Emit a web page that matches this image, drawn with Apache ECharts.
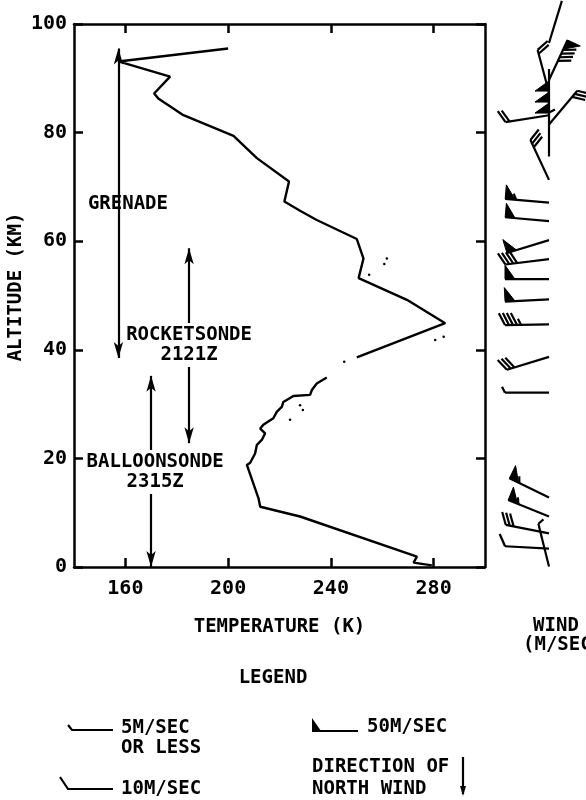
<!DOCTYPE html>
<html>
<head>
<meta charset="utf-8">
<script src="https://cdn.jsdelivr.net/npm/echarts@6/dist/echarts.min.js"></script>
<style>
html, body { margin: 0; padding: 0; background: #fff; }
#chart { width: 586px; height: 800px; }
</style>
</head>
<body>
<div id="chart"></div>
<script>
// temperature sounding (K) against altitude (km), null = gap in the record
var profileTemp = [200.0, 157.3, 177.4, 171.2, 172.8, 182.6, 202.1, 211.2, 223.7, 221.9, 228.0, 234.5,
  250.1, 252.7, 250.8, 269.6, 284.5, 250.1, null,
  238.4, 234.5, 232.6, 231.9, 225.4, 221.5, 220.9, 219.0, 217.6, 213.7, 212.5, 214.4, 213.1,
  211.2, 210.5, 208.6, 207.3, 211.8, 212.5, 228.0, 273.5, 272.2, 279.3];
var profileAlt = [95.5, 93.1, 90.3, 87.2, 86.3, 83.2, 79.4, 75.3, 71.0, 67.3, 65.6, 63.9,
  60.4, 56.8, 53.2, 49.2, 44.9, 38.6, null,
  34.9, 33.8, 32.6, 31.7, 31.5, 30.4, 29.5, 28.6, 27.4, 26.2, 25.5, 24.6, 23.4,
  22.5, 20.9, 19.2, 18.8, 12.7, 11.1, 9.3, 1.9, 0.8, 0.3];

// scattered single readings
var dotTemp = [261.8, 260.8, 254.9, 280.6, 283.9, 245.2, 228.0, 229.1, 224.1];
var dotAlt = [56.8, 55.8, 53.8, 41.8, 42.4, 37.8, 29.8, 28.9, 27.1];

var tempTicks = [160, 200, 240, 280];

// height ranges of each sounding method
var rangeName = ['GRENADE', 'ROCKETSONDE\n2121Z', 'BALLOONSONDE\n2315Z'];
var rangeTemp = [157.3, 184.8, 170.0];
var rangeTop = [95.5, 58.7, 35.2];
var rangeBottom = [38.5, 22.8, 0];
var rangeLabelTemp = [161.0, 184.8, 171.6];
var rangeLabelAlt = [66.9, 40.9, 17.5];

// wind barbs: altitude (km), direction (deg, from), speed (m/s)
var windAlt = [0.1, 3.4, 6.2, 9.3, 12.8, 32.1, 38.7, 44.7, 49.3, 53.0, 56.7, 60.2, 63.7, 67.1,
  71.3, 75.6, 81.5, 83.2, 87.4, 89.7, 91.7, 96.5];
var windDir = [346, 273, 281, 292, 296, 270, 253, 269, 267, 270, 263, 253, 275, 275,
  335, 0, 40, 261, 345, 25, 180, 17];
var windSpeed = [5, 10, 30, 55, 55, 5, 30, 45, 50, 50, 40, 50, 50, 55,
  30, 5, 30, 20, 20, 90, 150, 0];

var FONT = '"DejaVu Sans Mono", monospace';

var chart = echarts.init(document.getElementById('chart'));

function barb(params, api) {
  var a = api.coord([0, api.value(0)]);
  var r = api.value(1) * Math.PI / 180;
  var u = [Math.sin(r), -Math.cos(r)];
  var p = [-u[1], u[0]];
  var L = 44;
  var t = [a[0] + u[0] * L, a[1] + u[1] * L];
  var st = { stroke: '#000', lineWidth: 2.2, fill: null };
  var kids = [{ type: 'line', shape: { x1: a[0], y1: a[1], x2: t[0], y2: t[1] }, style: st }];
  function at(k) { return [t[0] - u[0] * k, t[1] - u[1] * k]; }
  var s = api.value(2), d = 0;
  while (s >= 50) {
    var b0 = at(d), b1 = at(d + 10);
    kids.push({ type: 'polygon', shape: { points: [b0, [b0[0] + p[0] * 14, b0[1] + p[1] * 14], b1] },
      style: { fill: '#000', stroke: '#000', lineWidth: 1 } });
    d += 11; s -= 50;
  }
  while (s >= 10) {
    var q = at(d);
    kids.push({ type: 'line', shape: { x1: q[0], y1: q[1], x2: q[0] + p[0] * 12 + u[0] * 6, y2: q[1] + p[1] * 12 + u[1] * 6 }, style: st });
    d += 4; s -= 10;
  }
  if (s >= 5) {
    var h = at(d);
    kids.push({ type: 'line', shape: { x1: h[0], y1: h[1], x2: h[0] + p[0] * 6 + u[0] * 3, y2: h[1] + p[1] * 6 + u[1] * 3 }, style: st });
  }
  return { type: 'group', children: kids };
}

function txt(x, y, s, align, rot) {
  return { type: 'text', x: x, y: y, rotation: rot || 0,
    style: { text: s, font: 'bold 19px ' + FONT, fill: '#000', align: align || 'left', verticalAlign: 'middle' } };
}

var axisLine = { show: true, onZero: false, lineStyle: { color: '#000', width: 2.5 } };

var option = {
  animation: false,
  backgroundColor: '#fff',
  grid: [
    { left: 74, right: 101, top: 24, bottom: 233 },
    { left: 549, right: 36, top: 24, bottom: 233 }
  ],
  xAxis: [
    { gridIndex: 0, type: 'value', min: 140, max: 300, interval: 20, position: 'bottom',
      axisLine: axisLine,
      axisTick: { inside: true, length: 9, customValues: tempTicks, lineStyle: { color: '#000', width: 2.5 } },
      axisLabel: { customValues: tempTicks, margin: 12, fontSize: 20, fontWeight: 'bold', color: '#000', fontFamily: FONT },
      splitLine: { show: false },
      name: 'TEMPERATURE (K)', nameLocation: 'middle', nameGap: 60,
      nameTextStyle: { fontSize: 19, fontWeight: 'bold', color: '#000', fontFamily: FONT, verticalAlign: 'middle' } },
    { gridIndex: 0, type: 'value', min: 140, max: 300, interval: 20, position: 'top',
      axisLine: axisLine,
      axisTick: { inside: true, length: 9, customValues: tempTicks, lineStyle: { color: '#000', width: 2.5 } },
      axisLabel: { show: false }, splitLine: { show: false } },
    { gridIndex: 1, type: 'value', min: 0, max: 1, show: false }
  ],
  yAxis: [
    { gridIndex: 0, type: 'value', min: 0, max: 100, interval: 20, position: 'left',
      axisLine: axisLine,
      axisTick: { inside: true, length: 9, lineStyle: { color: '#000', width: 2.5 } },
      axisLabel: { margin: 7, fontSize: 20, fontWeight: 'bold', color: '#000', fontFamily: FONT },
      splitLine: { show: false } },
    { gridIndex: 0, type: 'value', min: 0, max: 100, interval: 20, position: 'right',
      axisLine: axisLine,
      axisTick: { inside: true, length: 9, lineStyle: { color: '#000', width: 2.5 } },
      axisLabel: { show: false }, splitLine: { show: false } },
    { gridIndex: 1, type: 'value', min: 0, max: 100, show: false }
  ],
  series: [
    {
      type: 'line', xAxisIndex: 0, yAxisIndex: 0,
      data: profileTemp.map(function (t, i) { return t === null ? ['-', '-'] : [t, profileAlt[i]]; }),
      showSymbol: false, connectNulls: false,
      lineStyle: { color: '#000', width: 2.4 }, z: 3
    },
    {
      type: 'scatter', xAxisIndex: 0, yAxisIndex: 0,
      data: dotTemp.map(function (t, i) { return [t, dotAlt[i]]; }),
      symbolSize: 2.5, itemStyle: { color: '#000', opacity: 1 }, z: 2,
      markLine: {
        silent: true, symbol: ['arrow', 'arrow'], symbolSize: [7, 16],
        label: { show: false },
        lineStyle: { color: '#000', width: 2.2, type: 'solid', opacity: 1 },
        data: rangeTemp.map(function (t, i) {
          return [{ coord: [t, rangeTop[i]] }, { coord: [t, rangeBottom[i]] }];
        })
      }
    },
    {
      type: 'scatter', xAxisIndex: 0, yAxisIndex: 0, z: 6,
      symbolSize: 0, itemStyle: { opacity: 1, color: '#000' },
      data: rangeName.map(function (n, i) {
        return { value: [rangeLabelTemp[i], rangeLabelAlt[i]], name: n,
          label: { backgroundColor: i === 0 ? 'transparent' : '#fff' } };
      }),
      label: { show: true, position: 'inside', formatter: '{b}', color: '#000',
        fontSize: 19, fontWeight: 'bold', lineHeight: 20, fontFamily: FONT, align: 'center', padding: [2, 1] }
    },
    {
      type: 'custom', xAxisIndex: 2, yAxisIndex: 2, renderItem: barb, clip: false,
      data: windAlt.map(function (h, i) { return [h, windDir[i], windSpeed[i]]; }),
      encode: { x: 1, y: 0 }
    }
  ],
  graphic: [
    txt(16, 287, 'ALTITUDE (KM)', 'center', Math.PI / 2),
    txt(556, 626, 'WIND', 'center'),
    txt(523, 645, '(M/SEC)', 'left'),
    txt(273, 678, 'LEGEND', 'center'),
    { type: 'polyline', shape: { points: [[68, 725], [72, 730], [113, 730]] }, style: { stroke: '#000', lineWidth: 2.2, fill: null } },
    txt(121, 728, '5M/SEC'),
    txt(121, 748, 'OR LESS'),
    { type: 'polyline', shape: { points: [[60, 777], [68, 789], [113, 789]] }, style: { stroke: '#000', lineWidth: 2.2, fill: null } },
    txt(121, 789, '10M/SEC'),
    { type: 'polygon', shape: { points: [[312, 718], [312, 731], [321, 731]] }, style: { fill: '#000' } },
    { type: 'line', shape: { x1: 312, y1: 731, x2: 358, y2: 731 }, style: { stroke: '#000', lineWidth: 2.2 } },
    txt(367, 727, '50M/SEC'),
    txt(312, 767, 'DIRECTION OF'),
    txt(312, 789, 'NORTH WIND'),
    { type: 'line', shape: { x1: 463, y1: 757, x2: 463, y2: 794 }, style: { stroke: '#000', lineWidth: 2.2 } },
    { type: 'polygon', shape: { points: [[460, 786], [466, 786], [463, 796]] }, style: { fill: '#000' } }
  ]
};

chart.setOption(option);
</script>
</body>
</html>
